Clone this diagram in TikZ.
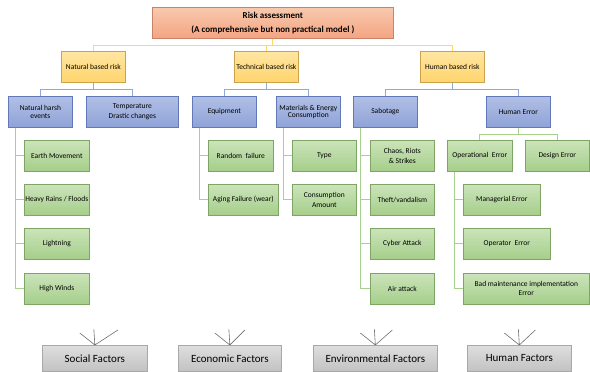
\documentclass[tikz,border=0pt]{standalone}
\usepackage{fontspec}
\setmainfont{Carlito}
\usetikzlibrary{positioning}
\definecolor{salmontop}{HTML}{F8C9AE}
\definecolor{salmonbot}{HTML}{F4A482}
\definecolor{salmonline}{HTML}{C9836A}
\definecolor{goldtop}{HTML}{FFE6A2}
\definecolor{goldbot}{HTML}{FFD46C}
\definecolor{goldline}{HTML}{C9A34E}
\definecolor{goldlink}{HTML}{FFD966}
\definecolor{bluetop}{HTML}{B1BFE5}
\definecolor{bluebot}{HTML}{8FA3D8}
\definecolor{blueline}{HTML}{6379B7}
\definecolor{bluelink}{HTML}{8EA9DB}
\definecolor{greentop}{HTML}{CBE4BA}
\definecolor{greenbot}{HTML}{A5CE8A}
\definecolor{greenline}{HTML}{7EA566}
\definecolor{greenlink}{HTML}{A9D18E}
\definecolor{greytop}{HTML}{DEDEDE}
\definecolor{greybot}{HTML}{C2C2C2}
\definecolor{greyline}{HTML}{A8A8A8}
\definecolor{fanline}{HTML}{6F6F6F}
\tikzset{
  chartbox/.style={
    draw,
    line width=0.7pt,
    inner sep=1pt,
    align=center,
    anchor=north west,
    text=black,
    font=\fontsize{7.5}{9}\selectfont
  },
  riskbox/.style={
    chartbox,
    top color=salmontop,
    bottom color=salmonbot,
    draw=salmonline,
    minimum width=241pt,
    minimum height=31pt,
    font=\bfseries\fontsize{9}{14}\selectfont
  },
  catbox/.style={
    chartbox,
    top color=goldtop,
    bottom color=goldbot,
    draw=goldline,
    minimum width=64pt,
    minimum height=31pt
  },
  subbox/.style={
    chartbox,
    top color=bluetop,
    bottom color=bluebot,
    draw=blueline,
    minimum width=64pt,
    minimum height=31pt
  },
  itembox/.style={
    chartbox,
    top color=greentop,
    bottom color=greenbot,
    draw=greenline,
    minimum width=65pt,
    minimum height=31pt
  },
  factorbox/.style={
    chartbox,
    top color=greytop,
    bottom color=greybot,
    draw=greyline,
    minimum height=26pt,
    font=\fontsize{11}{13}\selectfont
  },
  ylink/.style={draw=goldlink, line width=0.9pt},
  blink/.style={draw=bluelink, line width=0.9pt},
  glink/.style={draw=greenlink, line width=0.9pt},
  fan/.style={draw=fanline, line width=0.6pt}
}

\begin{document}
\begin{tikzpicture}[x=1pt, y=-1pt]
  \useasboundingbox (0,0) rectangle (590,372);

  % root
  \node[riskbox] (risk) at (152,7)
    {Risk assessment\\(A comprehensive but non practical model )};

  % risk categories
  \node[catbox] (nat) at (61,51) {Natural based risk};
  \node[catbox] (tech) at (234,51) {Technical based risk};
  \node[catbox] (hum) at (420,51) {Human based risk};

  % sub categories
  \node[subbox] (harsh) at (8,96) {Natural harsh\\[-1.5pt]events};
  \node[subbox, minimum width=92pt] (temp) at (86,96) {Temperature\\[1.5pt]Drastic changes};
  \node[subbox] (equip) at (192,96) {Equipment};
  \node[subbox] (mat) at (276,96) {Materials \& Energy\\[-1.5pt]Consumption};
  \node[subbox] (sab) at (353,96) {Sabotage};
  \node[subbox] (herr) at (486,96) {Human Error};

  % items
  \node[itembox] (earth) at (24,140) {Earth Movement};
  \node[itembox] (rain) at (24,184) {Heavy Rains / Floods};
  \node[itembox] (light) at (24,228) {Lightning};
  \node[itembox] (wind) at (24,273) {High Winds};

  \node[itembox] (rand) at (208,140) {Random\ \ failure};
  \node[itembox, minimum width=70pt] (aging) at (208,184) {Aging Failure (wear)};

  \node[itembox, minimum width=64pt] (type) at (292,140) {Type};
  \node[itembox, minimum width=64pt] (amount) at (292,184) {Consumption\\[1pt]Amount};

  \node[itembox, minimum width=64pt] (chaos) at (370,140) {Chaos, Riots\\[1pt]\& Strikes};
  \node[itembox, minimum width=64pt] (theft) at (370,184) {Theft/vandalism};
  \node[itembox, minimum width=64pt] (cyber) at (370,228) {Cyber Attack};
  \node[itembox, minimum width=64pt] (air) at (370,273) {Air attack};

  \node[itembox] (oper) at (447,140) {Operational\ \ Error};
  \node[itembox, minimum width=64pt] (design) at (525,140) {Design Error};
  \node[itembox, minimum width=77pt] (manag) at (463,184) {Managerial Error};
  \node[itembox, minimum width=87pt] (operr) at (463,228) {Operator\ \ Error};
  \node[itembox, minimum width=126pt] (maint) at (463,273)
    {Bad maintenance implementation\\Error};

  % factors
  \node[factorbox, minimum width=105pt] (soc) at (42,345) {Social Factors};
  \node[factorbox, minimum width=103pt] (eco) at (178,345) {Economic Factors};
  \node[factorbox, minimum width=124pt] (env) at (313,345) {Environmental Factors};
  \node[factorbox, minimum width=104pt] (humf) at (467,345) {Human Factors};

  % links
  \foreach \c in {nat,tech,hum}
    \draw[ylink] (risk.south) -- ++(0,6.5) -| (\c.north);
  \foreach \p/\c in {nat/harsh,nat/temp,tech/equip,tech/mat,hum/sab,hum/herr}
    \draw[blink] (\p.south) -- ++(0,7) -| (\c.north);
  \foreach \c in {oper,design}
    \draw[glink] (herr.south) -- ++(0,6.5) -| (\c.north);
  \foreach \p/\c in {harsh/earth,harsh/rain,harsh/light,harsh/wind,
                     equip/rand,equip/aging,mat/type,mat/amount,
                     sab/chaos,sab/theft,sab/cyber,sab/air,
                     oper/manag,oper/operr,oper/maint}
    \draw[glink] ([xshift=7pt]\p.south west) |- (\c.west);

  % fans over the factors
  \foreach \f/\r in {soc/23,eco/15,env/17,humf/16}
    \draw[fan] (\f.north) -- ++(-15,-12)
               (\f.north) -- ++(-1,-16)
               (\f.north) -- ++(\r,-15);
\end{tikzpicture}
\end{document}
